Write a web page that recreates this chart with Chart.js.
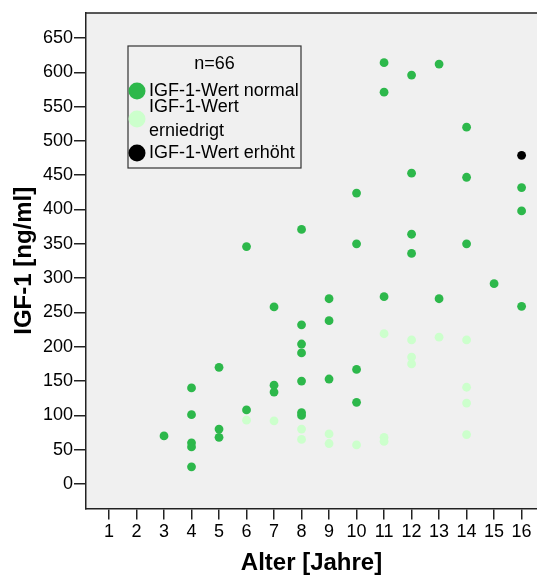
<!DOCTYPE html>
<html>
<head>
<meta charset="utf-8">
<script src="https://cdn.jsdelivr.net/npm/chart.js@4"></script>
<style>
  html, body { margin: 0; padding: 0; background: #fff; }
  #wrap { width: 537px; height: 578px; }
</style>
</head>
<body>
<div id="wrap"><canvas id="chart"></canvas></div>
<script>
// IGF-1 serum levels by age, grouped by reference-range classification

const X_TICKS = [1, 2, 3, 4, 5, 6, 7, 8, 9, 10, 11, 12, 13, 14, 15, 16];
const Y_TICKS = [0, 50, 100, 150, 200, 250, 300, 350, 400, 450, 500, 550, 600, 650];

const normalAge = [3, 4, 4, 4, 4, 4, 5, 5, 5, 6, 6, 7, 7, 7,
  8, 8, 8, 8, 8, 8, 8, 9, 9, 9, 10, 10, 10, 10, 11, 11, 11,
  12, 12, 12, 12, 13, 13, 14, 14, 14, 15, 16, 16, 16];
const normalIgf = [70, 140, 101, 60, 54, 25, 170, 80, 68, 346, 108, 258, 144, 134,
  371, 232, 204, 191, 150, 104, 100, 270, 238, 153, 424, 350, 167, 119, 614, 571, 273,
  596, 453, 364, 336, 612, 270, 520, 447, 350, 292, 432, 398, 259];

const lowAge = [6, 7, 8, 8, 9, 9, 10, 11, 11, 11, 12, 12, 12, 13, 14, 14, 14, 14];
const lowIgf = [93, 92, 80, 65, 73, 59, 57, 219, 68, 62, 210, 185, 175, 214, 210, 141, 118, 72];

const highAge = [16];
const highIgf = [479];

const LABELS = ['IGF-1-Wert normal', 'IGF-1-Wert\nerniedrigt', 'IGF-1-Wert erhöht'];
const LEGEND_TITLE = 'n=66';

const FONT = '"Liberation Sans", Arial, sans-serif';
const BG = '#f0f0f0';

const pairs = (xs, ys) => xs.map((x, i) => ({ x, y: ys[i] }));

// plot background, top frame line and the boxed legend inside the plot
const frame = {
  id: 'frame',
  beforeDraw(chart) {
    const { ctx, chartArea: a } = chart;
    ctx.save();
    ctx.fillStyle = BG;
    ctx.fillRect(a.left, a.top, a.right - a.left, a.bottom - a.top);
    ctx.strokeStyle = '#222';
    ctx.lineWidth = 1.5;
    ctx.beginPath();
    ctx.moveTo(a.left, a.top);
    ctx.lineTo(a.right, a.top);
    ctx.stroke();
    ctx.restore();
  },
  afterDraw(chart) {
    const { ctx } = chart;
    const box = { x: 128, y: 46, w: 173, h: 122 };
    ctx.save();
    ctx.fillStyle = BG;
    ctx.fillRect(box.x, box.y, box.w, box.h);
    ctx.strokeStyle = '#333';
    ctx.lineWidth = 1.2;
    ctx.strokeRect(box.x, box.y, box.w, box.h);

    ctx.fillStyle = '#000';
    ctx.font = '18px ' + FONT;
    ctx.textBaseline = 'middle';
    ctx.textAlign = 'center';
    ctx.fillText(LEGEND_TITLE, box.x + box.w / 2, 64);

    const rows = [91, 119, 153];
    ctx.textAlign = 'left';
    chart.data.datasets.forEach((ds, i) => {
      ctx.fillStyle = ds.backgroundColor;
      ctx.beginPath();
      ctx.arc(137, rows[i], 8.5, 0, Math.PI * 2);
      ctx.fill();
      ctx.fillStyle = '#000';
      const lines = ds.label.split('\n');
      lines.forEach((t, j) => {
        const y = rows[i] + (j - (lines.length - 1) / 2) * 24;
        ctx.fillText(t, 149, y);
      });
    });
    ctx.restore();
  }
};

new Chart(document.getElementById('chart'), {
  type: 'scatter',
  data: {
    datasets: [
      { label: LABELS[0], data: pairs(normalAge, normalIgf), backgroundColor: '#2db84b' },
      { label: LABELS[1], data: pairs(lowAge, lowIgf), backgroundColor: '#ccffcc' },
      { label: LABELS[2], data: pairs(highAge, highIgf), backgroundColor: '#000000' },
    ]
  },
  options: {
    responsive: true,
    maintainAspectRatio: false,
    animation: false,
    layout: { autoPadding: false, padding: { left: 0, top: 13, right: 0, bottom: 0 } },
    elements: { point: { radius: 4.4, borderWidth: 0, hoverRadius: 4.4 } },
    plugins: { legend: { display: false }, tooltip: { enabled: false } },
    scales: {
      x: {
        type: 'linear',
        min: 0.164,
        max: 16.56,
        afterBuildTicks: (s) => { s.ticks = X_TICKS.map(v => ({ value: v })); },
        afterFit: (s) => { s.height = 69.5; s.paddingLeft = 0; s.paddingRight = 0; },
        grid: { drawOnChartArea: false, drawTicks: true, tickLength: 11, color: '#222', lineWidth: 1.5 },
        border: { display: true, color: '#222', width: 1.5 },
        ticks: { color: '#000', padding: 2, maxRotation: 0, autoSkip: false, font: { family: FONT, size: 18 } },
        title: { display: true, text: 'Alter [Jahre]', color: '#000', padding: { top: 0, bottom: 0 },
                 font: { family: FONT, size: 24, weight: 'bold' } }
      },
      y: {
        type: 'linear',
        min: -35.7,
        max: 686.4,
        afterBuildTicks: (s) => { s.ticks = Y_TICKS.map(v => ({ value: v })); },
        afterFit: (s) => { s.width = 86; s.paddingTop = 0; s.paddingBottom = 0; },
        grid: { drawOnChartArea: false, drawTicks: true, tickLength: 12, color: '#222', lineWidth: 1.5 },
        border: { display: true, color: '#222', width: 1.5 },
        ticks: { color: '#000', padding: 1, autoSkip: false, font: { family: FONT, size: 18 } },
        title: { display: true, text: 'IGF-1 [ng/ml]', color: '#000', padding: { top: 10, bottom: 0 },
                 font: { family: FONT, size: 24, weight: 'bold' } }
      }
    }
  },
  plugins: [frame]
});
</script>
</body>
</html>
